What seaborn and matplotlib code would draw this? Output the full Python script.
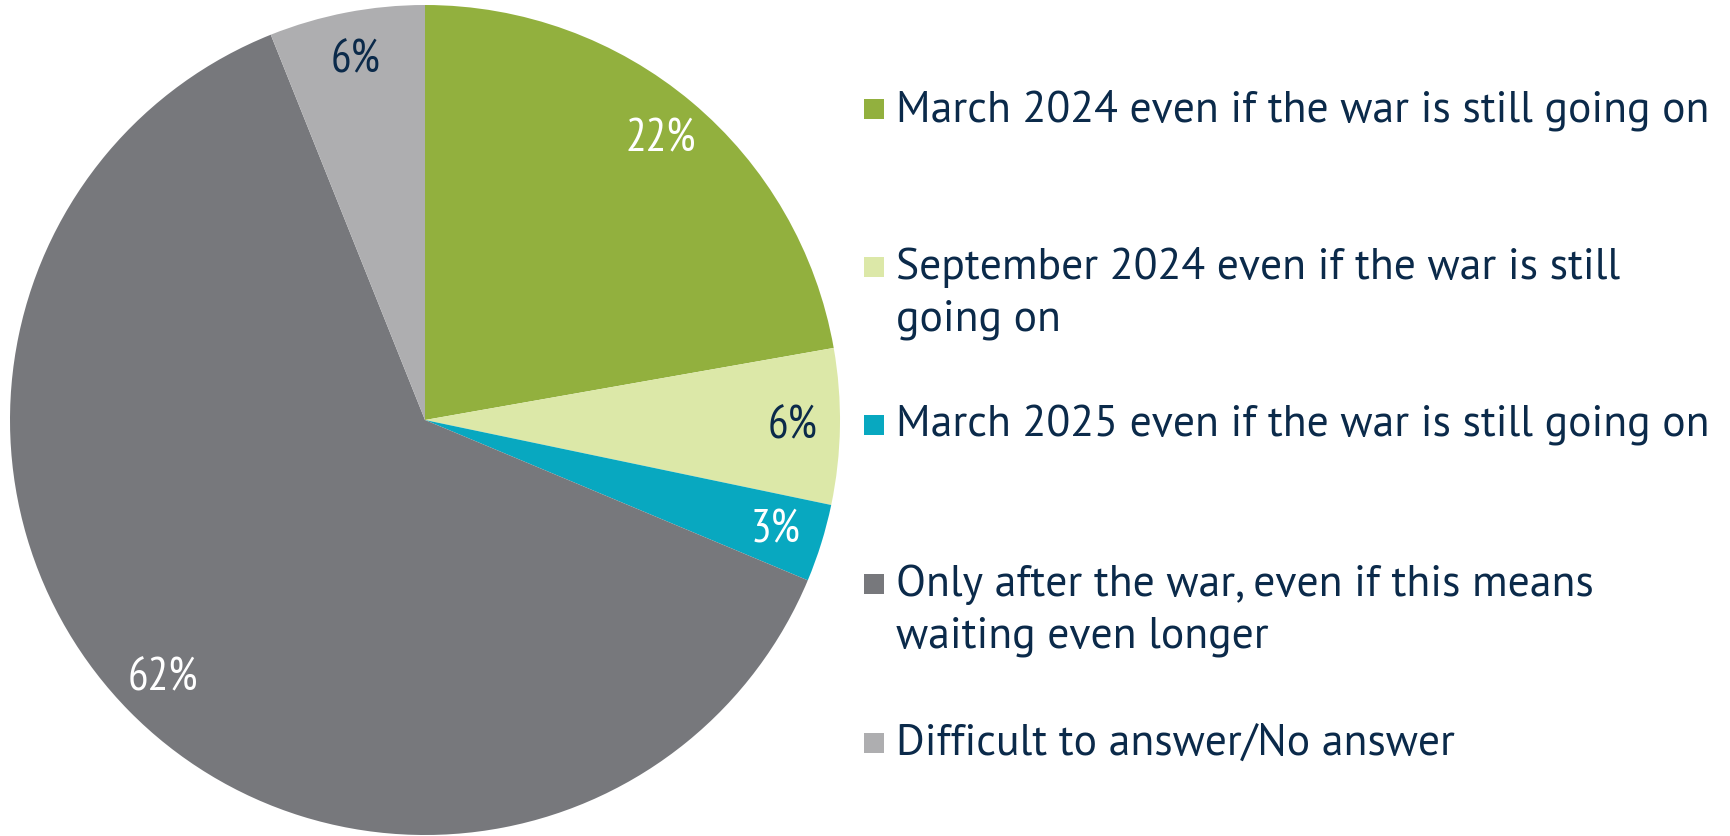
import matplotlib
matplotlib.use("Agg")
import matplotlib.pyplot as plt
import seaborn as sns
import numpy as np
from matplotlib.patches import Rectangle

categories = [
    "March 2024 even if the war is still going on",
    "September 2024 even if the war is still\ngoing on",
    "March 2025 even if the war is still going on",
    "Only after the war, even if this means\nwaiting even longer",
    "Difficult to answer/No answer",
]
values = [22, 6, 3, 62, 6]
pct_labels = ["22%", "6%", "3%", "62%", "6%"]
colors = ["#92B03E", "#DCE8A8", "#08A8C0", "#77787C", "#AEAEB0"]
label_colors = ["white", "#0B2A4A", "white", "white", "#0B2A4A"]

sns.set_theme(style="white")
FONT = ["PT Sans Narrow", "DejaVu Sans"]
LEG_FONT = ["PT Sans", "DejaVu Sans"]
plt.rcParams["font.family"] = FONT
NAVY = "#0B2A4A"

W, H = 1731, 837
fig = plt.figure(figsize=(W / 100, H / 100), dpi=100)
fig.patch.set_facecolor("white")

cx, cy, r = 425, 421, 415
ax = fig.add_axes([(cx - r) / W, (H - cy - r) / H, 2 * r / W, 2 * r / H])
wedges, texts = ax.pie(values, colors=colors, startangle=90, counterclock=False,
                       radius=1.0, wedgeprops=dict(linewidth=0))
ax.set_xlim(-1, 1)
ax.set_ylim(-1, 1)
ax.set_aspect("equal")
ax.axis("off")

for w, lab, col in zip(wedges, pct_labels, label_colors):
    ang = np.deg2rad((w.theta1 + w.theta2) / 2)
    d = 0.885
    ax.text(d * np.cos(ang), d * np.sin(ang), lab, ha="center", va="center",
            fontsize=33, color=col, family=FONT)

# legend drawn manually
first_line_y = [110, 268, 426, 585, 744]
line_gap = 52
sq = 20
for lab, col, y0 in zip(categories, colors, first_line_y):
    fig.patches.append(Rectangle((864 / W, (H - y0 - sq / 2) / H), sq / W, sq / H,
                                 transform=fig.transFigure, facecolor=col,
                                 edgecolor="none"))
    for k, line in enumerate(lab.split("\n")):
        yy = y0 + k * line_gap
        fig.text(896 / W, (H - yy) / H, line, ha="left", va="center",
                 fontsize=31.5, color=NAVY, family=LEG_FONT)

fig.savefig("out.png", dpi=100, facecolor="white")
